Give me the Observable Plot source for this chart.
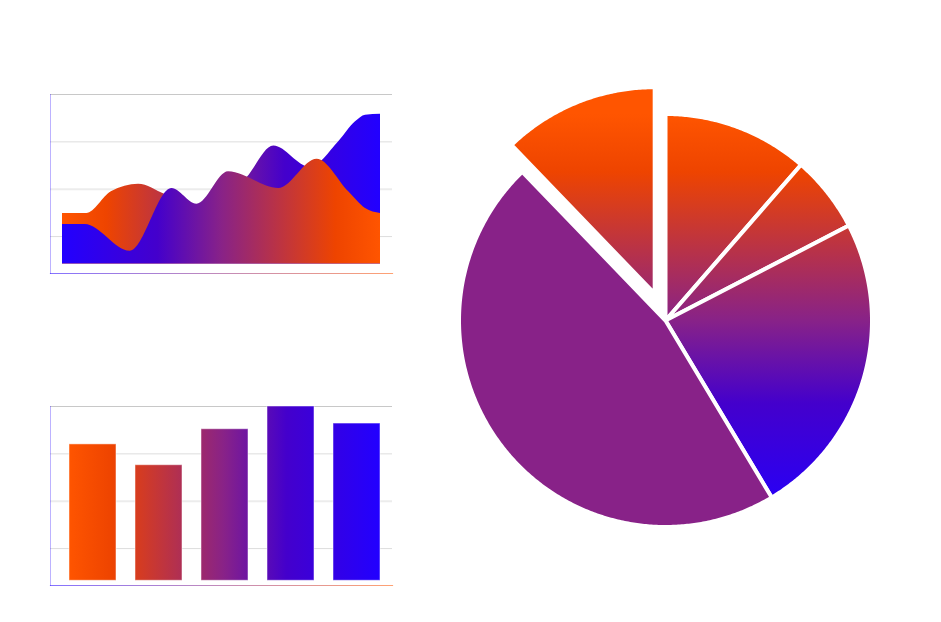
<!DOCTYPE html>
<html>
<head>
<meta charset="utf-8">
<script src="https://cdn.jsdelivr.net/npm/d3@7"></script>
<script src="https://cdn.jsdelivr.net/npm/@observablehq/plot@0.6"></script>
<style>
html, body { margin: 0; padding: 0; background: #ffffff; }
#root { position: relative; width: 941px; height: 622px; overflow: hidden; font-family: "DejaVu Sans", sans-serif; }
#root > svg { position: absolute; }
</style>
</head>
<body>
<div id="root"></div>
<script>
// ---------- Area chart (two series, front A and back B) ----------
const areaXA = [0, 1.0, 2.98, 4.82, 5.92, 7.31, 9.52, 11.21, 12.6, 13.34, 14];
const areaYA = [12.8, 12.8, -15.4, 50.8, 34.2, 68.4, 50.8, 81.7, 47.3, 29.7, 24.4];
const areaXB = [0, 1.07, 2.15, 3.35, 4.52, 6.5, 8.12, 9.3, 10.9, 12.16, 12.9, 13.34, 14];
const areaYB = [24.4, 24.4, 47.3, 55.3, 44.5, 25, 62.1, 95.5, 73, 100.1, 121.2, 128.2, 129.2];
const areaBase = -29;

// ---------- Bar chart ----------
const barCats = ["A", "B", "C", "D", "E"];
const barValues = [110, 88, 126, 150, 132];
const barBase = -34;

// ---------- Shared value axis ----------
const yDomain = [-39, 150];
const gridTicks = [0, 100];
const midTick = [50];
const topTick = [150];

// ---------- Pie chart ----------
const pieNames = ["A", "B", "C", "D", "E"];
const pieValues = [114, 60, 240, 464, 122];
const pieExploded = "E";
const pieSolid = "D";
const explodeOffset = 0.14; // fraction of radius

// ---------- Colours ----------
const ORANGE_TO_BLUE = [[0, "#ff5500"], [0.14, "#ee4400"], [0.5, "#882288"], [0.7, "#4400cc"], [1, "#2200ff"]];
const BLUE_TO_ORANGE = [[0, "#2200ff"], [0.3, "#4400cc"], [0.5, "#882288"], [0.86, "#ee4400"], [1, "#ff5500"]];
const PURPLE = "#882288";

const NS = "http://www.w3.org/2000/svg";
function addGradient(svg, id, stops, x1, y1, x2, y2) {
  let defs = svg.querySelector("defs");
  if (!defs) { defs = document.createElementNS(NS, "defs"); svg.insertBefore(defs, svg.firstChild); }
  const g = document.createElementNS(NS, "linearGradient");
  g.setAttribute("id", id);
  g.setAttribute("gradientUnits", "userSpaceOnUse");
  g.setAttribute("x1", x1); g.setAttribute("y1", y1);
  g.setAttribute("x2", x2); g.setAttribute("y2", y2);
  for (const [o, c] of stops) {
    const s = document.createElementNS(NS, "stop");
    s.setAttribute("offset", o); s.setAttribute("stop-color", c);
    g.appendChild(s);
  }
  defs.appendChild(g);
}

const root = document.getElementById("root");

// ===== Area chart =====
const seriesA = areaXA.map((x, i) => ({x, y: areaYA[i]}));
const seriesB = areaXB.map((x, i) => ({x, y: areaYB[i]}));

const areaChart = Plot.plot({
  width: 470, height: 311,
  marginLeft: 50, marginRight: 78, marginTop: 94, marginBottom: 38,
  style: {background: "transparent", overflow: "visible"},
  x: {domain: [0, 14], insetLeft: 12, insetRight: 12, axis: null},
  y: {domain: yDomain, axis: null},
  marks: [
    Plot.ruleY(gridTicks, {stroke: "#dddddd", strokeWidth: 1}),
    Plot.ruleY(midTick, {stroke: "#ececec", strokeWidth: 2}),
    Plot.ruleY(topTick, {stroke: "#c8c8c8", strokeWidth: 1}),
    Plot.areaY(seriesB, {x: "x", y1: areaBase, y2: "y", curve: "monotone-x", fill: "url(#gradAreaB)"}),
    Plot.areaY(seriesA, {x: "x", y1: areaBase, y2: "y", curve: "monotone-x", fill: "url(#gradAreaA)"}),
    Plot.frame({anchor: "left", stroke: "#2200ff", strokeOpacity: 0.3}),
    Plot.frame({anchor: "bottom", stroke: "url(#gradAxisA)", strokeOpacity: 0.55, strokeWidth: 1.2})
  ]
});
{
  const xs = areaChart.scale("x");
  const x0 = xs.apply(0), x1 = xs.apply(14);
  addGradient(areaChart, "gradAreaA", BLUE_TO_ORANGE, x0, 0, x1, 0);
  addGradient(areaChart, "gradAreaB", ORANGE_TO_BLUE, x0, 0, x1, 0);
  addGradient(areaChart, "gradAxisA", [[0, "#2200ff"], [1, "#ff5500"]], 50, 0, 392, 0);
}
areaChart.style.left = "0px";
areaChart.style.top = "0px";
root.appendChild(areaChart);

// ===== Bar chart =====
const barData = barCats.map((c, i) => ({cat: c, value: barValues[i]}));
const barChart = Plot.plot({
  width: 470, height: 311,
  marginLeft: 50, marginRight: 78, marginTop: 95, marginBottom: 37,
  style: {background: "transparent", overflow: "visible"},
  x: {domain: barCats, paddingInner: 0.29, paddingOuter: 0, insetLeft: 18, insetRight: 12, axis: null},
  y: {domain: yDomain, axis: null},
  marks: [
    Plot.ruleY(gridTicks, {stroke: "#dddddd", strokeWidth: 1}),
    Plot.ruleY(midTick, {stroke: "#ececec", strokeWidth: 2}),
    Plot.ruleY(topTick, {stroke: "#c8c8c8", strokeWidth: 1}),
    Plot.barY(barData, {x: "cat", y1: barBase, y2: "value", fill: "url(#gradBar)", stroke: "#ffffff", strokeOpacity: 0.5, strokeWidth: 1}),
    Plot.frame({anchor: "left", stroke: "#2200ff", strokeOpacity: 0.3}),
    Plot.frame({anchor: "bottom", stroke: "url(#gradAxisB)", strokeOpacity: 0.55, strokeWidth: 1.2})
  ]
});
{
  const r = barChart.scale("x").range;
  addGradient(barChart, "gradBar", ORANGE_TO_BLUE, r[0], 0, r[1], 0);
  addGradient(barChart, "gradAxisB", [[0, "#2200ff"], [1, "#ff5500"]], 50, 0, 392, 0);
}
barChart.style.left = "0px";
barChart.style.top = "311px";
root.appendChild(barChart);

// ===== Pie chart =====
const arcs = d3.pie().sort(null)(pieValues);
const piePoints = [];
arcs.forEach((a, i) => {
  const name = pieNames[i];
  const off = name === pieExploded ? explodeOffset : 0;
  const mid = (a.startAngle + a.endAngle) / 2;
  const ox = Math.sin(mid) * off, oy = Math.cos(mid) * off;
  piePoints.push({name, x: ox, y: oy});
  const n = Math.max(2, Math.ceil((a.endAngle - a.startAngle) / (Math.PI / 360)));
  for (let k = 0; k <= n; k++) {
    const t = a.startAngle + (a.endAngle - a.startAngle) * k / n;
    piePoints.push({name, x: ox + Math.sin(t), y: oy + Math.cos(t)});
  }
  piePoints.push({name, x: ox, y: oy});
});

const pieChart = Plot.plot({
  width: 440, height: 480,
  marginLeft: 13.5, marginRight: 13.5, marginTop: 33.5, marginBottom: 33.5,
  style: {background: "transparent", overflow: "visible"},
  x: {domain: [-1, 1], axis: null},
  y: {domain: [-1, 1], axis: null},
  marks: [
    Plot.line(piePoints.filter(d => d.name !== pieSolid), {x: "x", y: "y", z: "name", curve: "linear",
      fill: "url(#gradPie)", stroke: "#ffffff", strokeWidth: 4}),
    Plot.line(piePoints.filter(d => d.name === pieSolid), {x: "x", y: "y", z: "name", curve: "linear",
      fill: PURPLE, stroke: "#ffffff", strokeWidth: 4})
  ]
});
{
  const ys = pieChart.scale("y");
  addGradient(pieChart, "gradPie", ORANGE_TO_BLUE, 0, ys.apply(1), 0, ys.apply(-1));
}
pieChart.style.left = "445px";
pieChart.style.top = "80px";
root.appendChild(pieChart);
</script>
</body>
</html>
